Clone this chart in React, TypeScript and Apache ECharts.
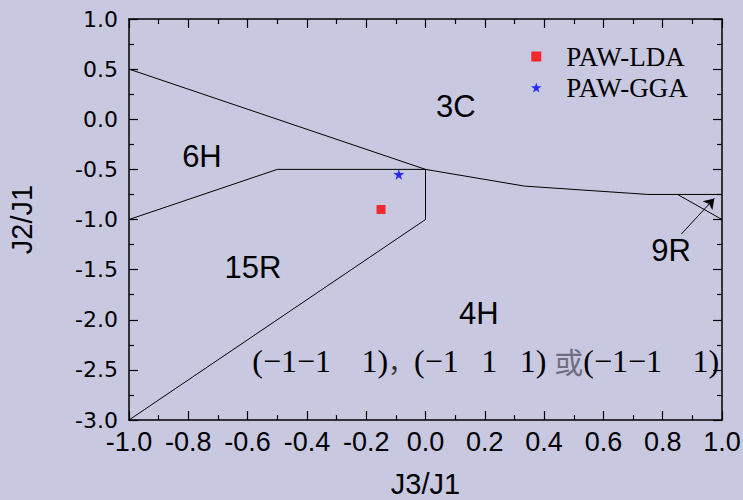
import React, { useEffect, useRef } from "react";
import * as echarts from "echarts";

// ---- data ----
const xTicks = [-1.0, -0.8, -0.6, -0.4, -0.2, 0.0, 0.2, 0.4, 0.6, 0.8, 1.0];
const yTicks = [-3.0, -2.5, -2.0, -1.5, -1.0, -0.5, 0.0, 0.5, 1.0];

const boundaryUpper = [[-1, 0.5], [0, -0.5], [1 / 3, -2 / 3], [0.75, -0.75], [1, -0.75]];
const boundaryInner = [[-1, -1], [-0.5, -0.5], [0, -0.5], [0, -1], [-1, -3]];
const boundary9R = [[0.85, -0.75], [1, -1]];
const arrow9R = [[0.863, -1.145], [0.974, -0.79]];

const ldaPoints = [[-0.15, -0.9]];
const ggaPoints = [[-0.09, -0.55]];

const phaseNames = ["3C", "6H", "15R", "4H", "9R"];
const phaseX = [0.102, -0.754, -0.582, 0.18, 0.828];
const phaseY = [0.132, -0.367, -1.479, -1.933, -1.314];

const notePos = [0.203, -2.411];

const STAR =
  "path://M50,0 L61,35 L98,35 L68,57 L79,91 L50,70 L21,91 L32,57 L2,35 L39,35 Z";
const SQUARE = "path://M0,0 L10,0 L10,10 L0,10 Z";

export default function App() {
  const ref = useRef<HTMLDivElement>(null);

  useEffect(() => {
    if (!ref.current) return;
    const chart = echarts.init(ref.current, undefined, { renderer: "svg" });

    const gA = "\u00a0\u00a0\u00a0\u2009";
    const gB = "\u00a0\u00a0\u2009";
    const noteText =
      "{a|(\u22121\u22121" + gA + "1)}{c|\uff0c}{a|(\u22121" + gB + "1" + gB + "1)\u00a0}{b|\u6216}{a|(\u22121\u22121" + gA + "1)}";

    const axisCommon = {
      axisLine: { show: true, onZero: false, lineStyle: { color: "#000", width: 1.5 } },
      axisTick: { show: true, inside: true, length: 9, lineStyle: { color: "#000", width: 1.2 } },
      minorTick: { show: true, splitNumber: 2, length: 5, lineStyle: { color: "#000", width: 1.2 } },
      splitLine: { show: false },
      minorSplitLine: { show: false },
    };

    const xMin = xTicks[0], xMax = xTicks[xTicks.length - 1];
    const yMin = yTicks[0], yMax = yTicks[yTicks.length - 1];
    const xInt = +(xTicks[1] - xTicks[0]).toFixed(2);
    const yInt = +(yTicks[1] - yTicks[0]).toFixed(2);

    const lineSeries = (data: number[][]) => ({
      type: "line",
      data,
      symbol: "none",
      silent: true,
      lineStyle: { color: "#000", width: 1 },
      z: 3,
    });

    chart.setOption({
      animation: false,
      backgroundColor: "#c8c8e0",
      grid: {
        left: 129,
        right: 21,
        top: 19,
        bottom: 80,
        containLabel: false,
        outerBoundsMode: "none",
      },
      legend: {
        orient: "vertical",
        left: 526,
        top: 38,
        itemWidth: 50,
        itemHeight: 10,
        itemGap: 4,
        symbolKeepAspect: true,
        selectedMode: false,
        textStyle: { fontFamily: "Liberation Serif", fontSize: 27, color: "#000" },
        data: [
          { name: "PAW-LDA", icon: SQUARE },
          { name: "PAW-GGA", icon: STAR },
        ],
      },
      xAxis: [
        {
          type: "value",
          min: xMin,
          max: xMax,
          interval: xInt,
          position: "bottom",
          ...axisCommon,
          axisLabel: {
            show: true,
            margin: 8,
            showMinLabel: true,
            showMaxLabel: true,
            hideOverlap: false,
            fontFamily: "Liberation Sans",
            fontSize: 27,
            color: "#000",
            formatter: (v: number) => v.toFixed(1),
          },
          name: "J3/J1",
          nameLocation: "middle",
          nameGap: 49,
          nameTextStyle: { fontFamily: "Liberation Sans", fontSize: 29, color: "#000" },
        },
        {
          type: "value",
          min: xMin,
          max: xMax,
          interval: xInt,
          position: "top",
          ...axisCommon,
          axisLabel: { show: false },
        },
      ],
      yAxis: [
        {
          type: "value",
          min: yMin,
          max: yMax,
          interval: yInt,
          position: "left",
          ...axisCommon,
          axisLabel: {
            show: true,
            margin: 11,
            showMinLabel: true,
            showMaxLabel: true,
            hideOverlap: false,
            fontFamily: "DejaVu Sans",
            fontSize: 22,
            color: "#000",
            formatter: (v: number) => v.toFixed(1),
          },
          name: "J2/J1",
          nameLocation: "middle",
          nameGap: 93,
          nameTextStyle: { fontFamily: "Liberation Sans", fontSize: 29, color: "#000" },
        },
        {
          type: "value",
          min: yMin,
          max: yMax,
          interval: yInt,
          position: "right",
          ...axisCommon,
          axisLabel: { show: false },
        },
      ],
      series: [
        lineSeries(boundaryUpper),
        lineSeries(boundaryInner),
        {
          ...lineSeries(boundary9R),
          markLine: {
            silent: true,
            symbol: ["none", "arrow"],
            symbolSize: 10,
            label: { show: false },
            lineStyle: { color: "#000", width: 1, type: "solid" },
            data: [[{ coord: arrow9R[0] }, { coord: arrow9R[1] }]],
          },
        },
        {
          name: "PAW-LDA",
          type: "scatter",
          data: ldaPoints,
          symbol: "rect",
          symbolSize: 9,
          itemStyle: { color: "#ff0000" },
          z: 5,
        },
        {
          name: "PAW-GGA",
          type: "scatter",
          data: ggaPoints,
          symbol: STAR,
          symbolSize: 11,
          itemStyle: { color: "#0000ff" },
          z: 5,
        },
        {
          type: "scatter",
          silent: true,
          symbolSize: 1,
          itemStyle: { color: "transparent" },
          data: phaseNames.map((n, i) => ({ name: n, value: [phaseX[i], phaseY[i]] })),
          label: {
            show: true,
            position: "inside",
            formatter: (p: any) => p.name,
            fontFamily: "Liberation Sans",
            fontSize: 31,
            color: "#000",
            opacity: 1,
            textBorderWidth: 0,
          },
        },
        {
          type: "scatter",
          silent: true,
          symbolSize: 1,
          itemStyle: { color: "transparent" },
          data: [notePos],
          label: {
            show: true,
            position: "inside",
            formatter: noteText,
            opacity: 1,
            textBorderWidth: 0,
            rich: {
              a: { fontFamily: "Liberation Serif", fontSize: 32, color: "#000" },
              b: { fontFamily: "Noto Sans CJK SC", fontSize: 29, color: "#6e6e80" },
              c: { fontFamily: "Noto Sans CJK SC", fontSize: 26, color: "#333" },
            },
          },
        },
      ],
    });

    return () => chart.dispose();
  }, []);

  return (
    <div
      ref={ref}
      style={{ position: "absolute", left: 0, top: 0, width: 743, height: 500 }}
    />
  );
}
